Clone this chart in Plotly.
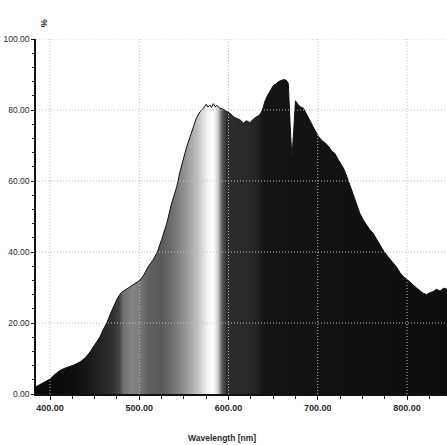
import plotly.graph_objects as go

# ---- data ----
wavelength = [384, 390, 395, 400, 405, 411, 416, 422, 428, 434, 440, 445, 450, 456, 460,
              464, 468, 472, 476, 480, 485, 490, 495, 501, 505, 510, 515, 520, 525, 531,
              536, 542, 546, 549, 553, 557, 561, 564, 568, 572, 575, 577, 579, 581, 583,
              585, 587, 590, 594, 598, 602, 606, 610, 613, 617, 620, 624, 628, 632, 635,
              638, 641, 644, 647, 650, 653, 656, 659, 662, 665, 667, 669, 671, 673, 675,
              678, 681, 684, 687, 690, 693, 697, 701, 705, 708, 712, 716, 719, 723, 726,
              729, 733, 736, 740, 744, 747, 751, 755, 758, 762, 766, 769, 773, 777, 781,
              785, 789, 792, 796, 800, 804, 807, 811, 815, 818, 822, 826, 829, 833, 837,
              841, 845]
percent = [2.0, 2.8, 3.4, 4.2, 5.4, 6.6, 7.2, 7.7, 8.3, 9.1, 10.3, 11.9, 13.8, 16.1, 18.3,
           20.2, 22.8, 25.0, 27.2, 28.6, 29.4, 30.2, 31.0, 32.1, 33.5, 35.9, 37.6, 39.8, 43.5, 48.2,
           53.5, 58.4, 63.0, 65.9, 69.5, 72.5, 75.5, 77.7, 79.5, 80.5, 81.6, 80.8, 81.4, 80.7, 81.8,
           80.9, 81.3, 80.6, 80.2, 79.5, 79.0, 78.0, 77.5, 77.2, 76.3, 77.0, 76.4, 77.5, 78.2, 78.6,
           80.0, 82.6, 84.2, 85.5, 86.8, 87.3, 88.0, 88.3, 88.6, 88.3, 87.5, 76.0, 66.5, 74.0, 82.6,
           81.5, 80.8, 80.5, 79.0, 77.5, 76.2, 74.2, 72.5, 71.3, 70.8, 69.8, 68.3, 67.8, 66.0, 64.8,
           63.5, 61.0, 58.8, 55.6, 52.8, 51.0, 49.0, 47.5, 46.4, 45.3, 43.6, 42.0, 40.6, 39.2, 38.0,
           36.8, 35.5, 34.2, 33.0, 32.3, 31.5, 30.7, 29.8, 29.0, 28.4, 28.0, 28.6, 28.8, 29.5, 29.0,
           29.8, 29.5]

x_ticks = [400, 500, 600, 700, 800]
y_ticks = [0, 20, 40, 60, 80, 100]
x_title = "Wavelength [nm]"
y_title = "%"

# ---- styles ----
X_MIN, X_MAX = 384.3, 844.8
grad_stops = [  # (wavelength, gray level)
    (384.3, 10), (430, 15), (445, 26), (470, 48), (478, 69), (482, 110), (492, 133),
    (500, 122), (510, 96), (525, 90), (535, 106), (550, 144), (565, 192), (577, 245),
    (583, 255), (588, 210), (593, 90), (598, 46), (630, 38), (640, 20), (844.8, 13),
]
colorscale = [[(w - X_MIN) / (X_MAX - X_MIN), f"rgb({g},{g},{g})"] for w, g in grad_stops]

fig = go.Figure()
fig.add_trace(go.Scatter(
    x=wavelength, y=percent, mode="lines",
    line=dict(color="#111111", width=1),
    fill="tozeroy",
    fillgradient=dict(type="horizontal", colorscale=colorscale, start=X_MIN, stop=X_MAX),
    hoverinfo="skip", showlegend=False,
))

grid_color = "#bdbdbd"
grid_line = dict(color=grid_color, width=1, dash="1px,2px")
shapes = []
for xv in x_ticks:
    shapes.append(dict(type="line", xref="x", yref="y", x0=xv, x1=xv, y0=0, y1=100,
                       line=grid_line, layer="above"))
for yv in y_ticks[1:]:
    shapes.append(dict(type="line", xref="x", yref="y", x0=X_MIN, x1=X_MAX, y0=yv, y1=yv,
                       line=grid_line, layer="above"))

font_fam = "Liberation Sans, Arial, sans-serif"
txt_color = "#2a2a2a"

fig.update_layout(
    width=447, height=445,
    margin=dict(l=36, r=0, t=39, b=51, pad=0),
    paper_bgcolor="white", plot_bgcolor="white",
    shapes=shapes,
    xaxis=dict(
        range=[X_MIN, X_MAX], tickvals=x_ticks, tickformat=".2f",
        showgrid=False, zeroline=False, automargin=False,
        showline=True, linecolor="#111111", linewidth=1.5,
        ticks="outside", ticklen=4, tickcolor="#111111",
        minor=dict(dtick=25, tick0=400, ticks="outside", ticklen=3, tickcolor="#111111", showgrid=False),
        tickfont=dict(family=font_fam, size=9, color=txt_color, weight="bold"),
    ),
    yaxis=dict(
        range=[0, 100], tickvals=y_ticks, tickformat=".2f",
        showgrid=False, zeroline=False, automargin=False,
        showline=True, linecolor="#111111", linewidth=1.5,
        ticks="outside", ticklen=3, tickcolor="#111111",
        minor=dict(dtick=4, tick0=0, ticks="outside", ticklen=2, tickcolor="#111111", showgrid=False),
        tickfont=dict(family=font_fam, size=8.5, color=txt_color),
    ),
    annotations=[
        dict(text=f"<b>{y_title}</b>", xref="paper", yref="paper", x=0.003, y=1.062,
             showarrow=False, textangle=-90,
             font=dict(family=font_fam, size=9, color=txt_color)),
        dict(text=f"<b>{x_title}</b>", xref="paper", yref="paper", x=0.4526, y=-0.124,
             showarrow=False, yanchor="middle",
             font=dict(family=font_fam, size=8.5, color=txt_color)),
    ],
)

fig.write_html(
    "out.html",
    config={"displayModeBar": False},
    post_script="document.body.style.margin='0';document.body.style.overflow='hidden';",
)
